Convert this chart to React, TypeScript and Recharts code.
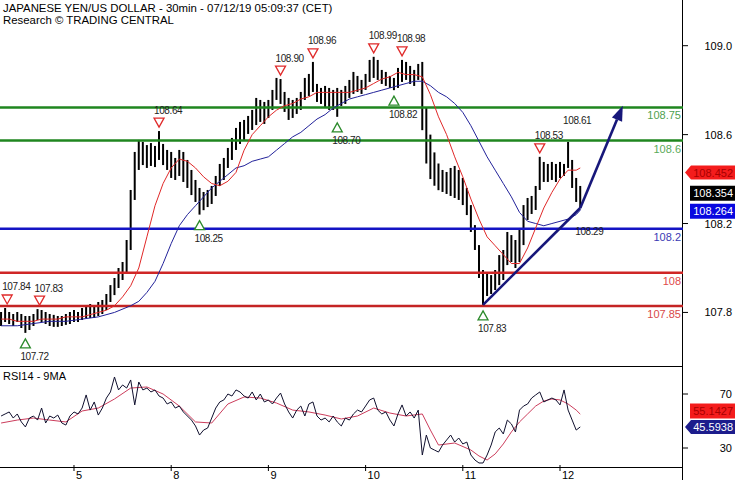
import React from "react";
import { Bar, ComposedChart, Line, ReferenceDot, ReferenceLine, XAxis, YAxis } from "recharts";

const FONT = "'Liberation Sans', Arial, sans-serif";

// one bar per trading hour, first bar = Jul 4 06:00 (hour 6 of the index)
const firstHour = 6;

const highs = [
  107.802, 107.82, 107.802, 107.793, 107.802, 107.793, 107.784, 107.784, 107.793, 107.815,
  107.811, 107.802, 107.793, 107.789, 107.784, 107.784, 107.793, 107.802, 107.811, 107.802,
  107.82, 107.829, 107.838, 107.829, 107.847, 107.856, 107.883, 107.923, 107.955, 108.0,
  108.027, 108.126, 108.351, 108.522, 108.576, 108.567, 108.553, 108.562, 108.549, 108.616,
  108.558, 108.531, 108.522, 108.495, 108.531, 108.522, 108.486, 108.441, 108.396, 108.36,
  108.342, 108.351, 108.369, 108.414, 108.468, 108.495, 108.54, 108.585, 108.63, 108.657,
  108.666, 108.684, 108.711, 108.765, 108.756, 108.747, 108.756, 108.801, 108.855, 108.85,
  108.792, 108.765, 108.756, 108.765, 108.792, 108.855, 108.873, 108.927, 108.828, 108.81,
  108.819, 108.81, 108.801, 108.81, 108.801, 108.819, 108.846, 108.882, 108.864, 108.846,
  108.873, 108.936, 108.95, 108.936, 108.891, 108.882, 108.864, 108.855, 108.9, 108.936,
  108.927, 108.909, 108.891, 108.918, 108.927, 108.72, 108.6, 108.52, 108.47, 108.441,
  108.432, 108.45, 108.459, 108.441, 108.405, 108.36, 108.283, 108.193, 108.103, 107.991,
  107.973, 107.968, 107.991, 108.058, 108.081, 108.162, 108.148, 108.126, 108.18, 108.283,
  108.315, 108.324, 108.369, 108.5, 108.477, 108.468, 108.477, 108.468, 108.477, 108.468,
  108.567, 108.486, 108.405, 108.369,
];

const lows = [
  107.739, 107.757, 107.748, 107.739, 107.757, 107.73, 107.708, 107.721, 107.739, 107.766,
  107.757, 107.748, 107.739, 107.735, 107.735, 107.739, 107.744, 107.748, 107.757, 107.757,
  107.766, 107.775, 107.775, 107.775, 107.784, 107.793, 107.811, 107.847, 107.878, 107.91,
  107.946, 107.982, 108.081, 108.306, 108.441, 108.463, 108.45, 108.459, 108.454, 108.486,
  108.463, 108.441, 108.405, 108.396, 108.414, 108.387, 108.36, 108.328, 108.297, 108.24,
  108.26, 108.274, 108.288, 108.324, 108.369, 108.396, 108.45, 108.486, 108.531, 108.558,
  108.576, 108.603, 108.621, 108.643, 108.657, 108.648, 108.675, 108.711, 108.756, 108.738,
  108.702, 108.666, 108.675, 108.693, 108.711, 108.756, 108.774, 108.792, 108.747, 108.738,
  108.72, 108.711, 108.711, 108.68, 108.729, 108.738, 108.765, 108.783, 108.792, 108.783,
  108.801, 108.837, 108.855, 108.846, 108.828, 108.819, 108.81, 108.8, 108.81, 108.837,
  108.846, 108.828, 108.819, 108.846, 108.62, 108.47, 108.4, 108.37, 108.35, 108.342,
  108.333, 108.324, 108.315, 108.306, 108.283, 108.238, 108.162, 108.081, 107.955, 107.834,
  107.874, 107.883, 107.901, 107.923, 107.946, 108.013, 108.027, 108.0, 108.027, 108.103,
  108.216, 108.243, 108.261, 108.351, 108.387, 108.387, 108.396, 108.387, 108.405, 108.414,
  108.45, 108.36, 108.297, 108.27,
];

// moving averages: [hour, value]
const redMa: [number, number][] = [
  [6, 107.77], [8, 107.77], [10, 107.76], [12, 107.76], [14, 107.76], [16, 107.77], [18, 107.77],
  [20, 107.77], [22, 107.78], [24, 107.78], [26, 107.78], [28, 107.79], [30, 107.8], [32, 107.81],
  [34, 107.83], [36, 107.87], [38, 107.92], [40, 108.0], [42, 108.14], [44, 108.28], [46, 108.38],
  [48, 108.45], [50, 108.49], [52, 108.48], [54, 108.45], [56, 108.41], [58, 108.38], [60, 108.37],
  [62, 108.39], [64, 108.43], [66, 108.53], [68, 108.6], [70, 108.64], [72, 108.68], [74, 108.71],
  [76, 108.73], [78, 108.74], [80, 108.76], [82, 108.77], [84, 108.79], [86, 108.79], [88, 108.79],
  [90, 108.79], [92, 108.79], [94, 108.8], [96, 108.81], [98, 108.83], [100, 108.85], [102, 108.86],
  [104, 108.88], [106, 108.87], [108, 108.87], [110, 108.86], [112, 108.78], [114, 108.68],
  [116, 108.6], [118, 108.5], [120, 108.41], [122, 108.31], [124, 108.22], [126, 108.14],
  [128, 108.1], [130, 108.06], [132, 108.02], [134, 108.02], [136, 108.09], [138, 108.18],
  [140, 108.27], [142, 108.34], [144, 108.4], [146, 108.44], [148, 108.44], [149, 108.45],
];

const blueMa: [number, number][] = [
  [6, 107.74], [10, 107.74], [14, 107.75], [18, 107.76], [22, 107.76], [26, 107.77], [30, 107.78],
  [34, 107.8], [38, 107.83], [40, 107.85], [42, 107.89], [44, 107.94], [46, 108.02], [48, 108.11],
  [50, 108.19], [52, 108.24], [54, 108.28], [56, 108.32], [58, 108.36], [60, 108.39], [62, 108.42],
  [64, 108.45], [66, 108.46], [68, 108.48], [70, 108.49], [72, 108.5], [74, 108.53], [76, 108.56],
  [78, 108.59], [80, 108.61], [82, 108.64], [84, 108.67], [86, 108.69], [88, 108.72], [90, 108.74],
  [92, 108.76], [94, 108.77], [96, 108.78], [98, 108.79], [100, 108.8], [102, 108.81], [104, 108.82],
  [106, 108.83], [108, 108.84], [110, 108.84], [112, 108.82], [114, 108.79], [116, 108.77],
  [118, 108.74], [120, 108.7], [122, 108.64], [124, 108.57], [126, 108.5], [128, 108.44],
  [130, 108.38], [132, 108.32], [134, 108.25], [136, 108.21], [138, 108.2], [140, 108.19],
  [142, 108.2], [144, 108.21], [146, 108.22], [148, 108.24], [149, 108.26],
];

const rsi = [
  53.7, 55.2, 56.7, 52.2, 55.2, 49.3, 45.6, 52.2, 53.7, 50.7,
  59.6, 48.5, 53.7, 52.2, 54.4, 48.5, 47.0, 53.7, 56.7, 55.2,
  59.6, 69.3, 58.1, 64.1, 54.4, 59.6, 67.0, 71.5, 82.6, 73.0,
  76.7, 74.4, 80.4, 61.9, 78.9, 73.0, 74.4, 71.5, 73.0, 68.5,
  67.0, 62.6, 64.1, 59.6, 61.1, 56.7, 53.7, 50.7, 46.3, 39.6,
  43.3, 44.8, 52.2, 59.6, 64.1, 65.6, 70.0, 68.5, 73.0, 71.5,
  68.5, 67.0, 71.5, 65.6, 70.0, 64.1, 65.6, 62.6, 67.0, 70.7,
  62.6, 56.7, 52.2, 58.1, 61.1, 53.7, 62.6, 64.1, 53.7, 50.7,
  52.2, 49.3, 53.7, 49.3, 46.3, 52.2, 50.7, 55.2, 58.1, 56.7,
  61.1, 65.6, 67.0, 58.1, 55.2, 56.7, 50.7, 46.3, 55.2, 61.9,
  53.7, 56.7, 52.2, 58.1, 24.8, 39.6, 30.0, 28.5, 27.0, 32.2,
  35.9, 39.6, 34.4, 37.4, 33.0, 34.4, 24.8, 21.1, 18.9, 18.9,
  24.8, 32.2, 41.9, 44.8, 40.4, 50.7, 47.8, 41.9, 58.1, 61.1,
  62.6, 67.0, 69.3, 71.5, 64.1, 65.6, 67.0, 65.6, 61.9, 73.0,
  58.1, 50.7, 43.3, 45.6,
];

const rsiMa: [number, number][] = [
  [6, 48.5], [10, 50.7], [14, 52.2], [18, 50.7], [22, 49.3], [26, 57.4], [30, 59.6], [34, 66.3],
  [38, 74.4], [42, 75.2], [46, 70.0], [50, 61.1], [54, 49.3], [58, 48.5], [62, 62.6], [66, 67.8],
  [70, 67.0], [74, 63.3], [78, 58.1], [82, 56.7], [86, 54.4], [90, 51.5], [94, 53.7], [98, 59.6],
  [102, 55.9], [106, 53.7], [110, 55.2], [112, 43.3], [114, 32.2], [118, 33.7], [122, 28.5],
  [124, 24.1], [126, 21.1], [128, 25.6], [130, 33.0], [132, 41.9], [134, 49.3], [136, 55.2],
  [138, 61.1], [140, 64.8], [142, 66.3], [144, 65.6], [146, 62.6], [148, 58.1], [149, 55.1],
];

const dayTicks = [24, 48, 72, 96, 120, 144];
const dayLabels = ["5", "8", "9", "10", "11", "12"];
const priceTicks = [107.8, 108.2, 108.6, 109.0];
const rsiTicks = [30, 70];

const levels = [
  { value: 108.722, text: "108.75", line: "#1f861f", label: "#4f9f4f" },
  { value: 108.573, text: "108.6", line: "#1f861f", label: "#5aaa5a" },
  { value: 108.176, text: "108.2", line: "#1414c4", label: "#3a3ab4" },
  { value: 107.979, text: "108", line: "#cf2626", label: "#e04a4a" },
  { value: 107.829, text: "107.85", line: "#c42424", label: "#d84848" },
];

// h may sit on a half hour (30-min bar); the price comes from the hourly bar it falls in
const markers = [
  { h: 7.5, kind: "high", text: "107.84" },
  { h: 15.5, kind: "high", text: "107.83" },
  { h: 12, kind: "low", text: "107.72" },
  { h: 45, kind: "high", text: "108.64" },
  { h: 55, kind: "low", text: "108.25" },
  { h: 75, kind: "high", text: "108.90" },
  { h: 83, kind: "high", text: "108.96" },
  { h: 89, kind: "low", text: "108.70" },
  { h: 98, kind: "high", text: "108.99" },
  { h: 103, kind: "low", text: "108.82" },
  { h: 105, kind: "high", text: "108.98" },
  { h: 125, kind: "low", text: "107.83" },
  { h: 139, kind: "high", text: "108.53" },
  { h: 146, kind: "high", text: "108.61", bare: true },
  { h: 149, kind: "low", text: "108.29", bare: true },
];

const trendLine = [{ x: 125, y: 107.834 }, { x: 149, y: 108.27 }];
const arrowLine = [{ x: 149, y: 108.27 }, { x: 159.5, y: 108.73 }];

const lastPrice = 108.354;
const lastRedMa = 108.452;
const lastBlueMa = 108.264;
const lastRsi = 45.5938;
const lastRsiMa = 55.1427;

const xDomain: [number, number] = [5.73, 174.37];
const priceDomain: [number, number] = [107.559, 109.2056];
const rsiDomain: [number, number] = [15.93, 90.74];

const W = 735;
const PLOT_W = 683;
const MAIN_H = 366;
const RSI_PLOT_H = 101;

const lookup = (pts: [number, number][], h: number) => {
  const p = pts.find((q) => q[0] === h);
  return p ? p[1] : null;
};

const priceRows = highs.map((hi, i) => {
  const h = firstHour + i;
  return { h, range: [lows[i], hi], red: lookup(redMa, h), blue: lookup(blueMa, h) };
});

const rsiRows = rsi.map((v, i) => {
  const h = firstHour + i;
  return { h, rsi: v, ma: lookup(rsiMa, h) };
});

const txt = { fontFamily: FONT, fontSize: 11 };
const smallTxt = { fontFamily: FONT, fontSize: 10, letterSpacing: -0.4 };

const PriceTick = (p: any) => (
  <g>
    <line x1={PLOT_W} x2={PLOT_W + 5} y1={p.y} y2={p.y} stroke="#000" />
    <text x={W - 3} y={p.y} textAnchor="end" dominantBaseline="central" fill="#000" {...txt}>
      {Number(p.payload.value).toFixed(1)}
    </text>
  </g>
);

const RsiTick = (p: any) => (
  <g>
    <line x1={PLOT_W} x2={PLOT_W + 5} y1={p.y} y2={p.y} stroke="#000" />
    <text x={W - 3} y={p.y} textAnchor="end" dominantBaseline="central" fill="#000" {...txt}>
      {p.payload.value}
    </text>
  </g>
);

const DayTick = (p: any) => {
  const i = dayTicks.indexOf(p.payload.value);
  return (
    <g>
      <line x1={p.x} x2={p.x} y1={RSI_PLOT_H - 2} y2={RSI_PLOT_H + 4} stroke="#000" />
      <text x={p.x + 2} y={RSI_PLOT_H + 8} dominantBaseline="central" fill="#000" {...txt}>
        {dayLabels[i]}
      </text>
    </g>
  );
};

const markerShape = (m: any) => (p: any) => {
  const { cx, cy } = p;
  const up = m.kind === "low";
  const ty = up ? cy + 11 : cy - 9;
  const ly = up ? ty + 13 : ty - 12;
  const color = up ? "#2b8a2b" : "#e02a2a";
  const tri = up
    ? `${cx - 5},${ty + 4} ${cx + 5},${ty + 4} ${cx},${ty - 5}`
    : `${cx - 5},${ty - 4} ${cx + 5},${ty - 4} ${cx},${ty + 5}`;
  return (
    <g>
      {!m.bare && <polygon points={tri} fill="#fff" stroke={color} strokeWidth={1.3} />}
      <text x={cx - 5} y={ly} dominantBaseline="central" fill="#222" {...smallTxt}>
        {m.text}
      </text>
    </g>
  );
};

const levelLabel = (lv: any) => (p: any) => (
  <text x={p.cx - 2} y={p.cy + 8} textAnchor="end" dominantBaseline="central" fill={lv.label} {...txt}>
    {lv.text}
  </text>
);

const valueBox = (text: string, bg: string, fg: string, pointer: boolean, dy: number) => (p: any) => {
  const y = p.cy + dy;
  const x0 = p.cx + 2;
  const left = p.cx + 8;
  const d = pointer
    ? `M${x0},${y} L${left},${y - 7} L${W},${y - 7} L${W},${y + 7} L${left},${y + 7} Z`
    : `M${left - 1},${y - 7.5} L${W},${y - 7.5} L${W},${y + 7.5} L${left - 1},${y + 7.5} Z`;
  return (
    <g>
      <path d={d} fill={bg} />
      <text x={W - 2} y={y} textAnchor="end" dominantBaseline="central" fill={fg} {...txt}>
        {text}
      </text>
    </g>
  );
};

const arrowShape = (p: any) => {
  const { x1, y1, x2, y2 } = p;
  const a = Math.atan2(y2 - y1, x2 - x1);
  const len = 15;
  const half = 5.5;
  const bx = x2 - len * Math.cos(a);
  const by = y2 - len * Math.sin(a);
  const nx = -Math.sin(a) * half;
  const ny = Math.cos(a) * half;
  return (
    <g>
      <line x1={x1} y1={y1} x2={bx} y2={by} stroke="#17177a" strokeWidth={2.6} />
      <polygon points={`${x2},${y2} ${bx + nx},${by + ny} ${bx - nx},${by - ny}`} fill="#17177a" />
    </g>
  );
};

const PriceChart = () => (
  <ComposedChart width={W} height={MAIN_H} data={priceRows} margin={{ top: 0, right: 0, bottom: 0, left: 0 }}>
    <XAxis type="number" dataKey="h" domain={xDomain} allowDataOverflow hide />
    <YAxis
      orientation="right"
      domain={priceDomain}
      ticks={priceTicks}
      allowDataOverflow
      width={W - PLOT_W}
      axisLine={false}
      tickLine={false}
      tick={<PriceTick />}
      interval={0}
    />
    {levels.map((lv) => (
      <ReferenceLine key={lv.text} y={lv.value} stroke={lv.line} strokeWidth={2.5} />
    ))}
    <Bar dataKey="range" barSize={2} fill="#000" isAnimationActive={false} />
    <Line dataKey="blue" stroke="#22229a" strokeWidth={1} dot={false} activeDot={false} connectNulls isAnimationActive={false} />
    <Line dataKey="red" stroke="#e02828" strokeWidth={1} dot={false} activeDot={false} connectNulls isAnimationActive={false} />
    <ReferenceLine segment={trendLine} stroke="#17177a" strokeWidth={2.6} />
    <ReferenceLine segment={arrowLine} shape={arrowShape} />
    {levels.map((lv) => (
      <ReferenceDot key={"l" + lv.text} x={xDomain[1]} y={lv.value} shape={levelLabel(lv)} />
    ))}
    {markers.map((m) => {
      const i = Math.floor(m.h) - firstHour;
      return (
        <ReferenceDot
          key={m.text + m.h}
          x={m.h}
          y={m.kind === "high" ? highs[i] : lows[i]}
          shape={markerShape(m)}
        />
      );
    })}
    <ReferenceDot x={xDomain[1]} y={lastRedMa} shape={valueBox(lastRedMa.toFixed(3), "#f41c1c", "#a80000", true, 5)} />
    <ReferenceDot x={xDomain[1]} y={lastPrice} shape={valueBox(lastPrice.toFixed(3), "#000", "#fff", false, 4)} />
    <ReferenceDot x={xDomain[1]} y={lastBlueMa} shape={valueBox(lastBlueMa.toFixed(3), "#0808e0", "#fff", false, 2)} />
  </ComposedChart>
);

const RsiChart = () => (
  <ComposedChart width={W} height={RSI_PLOT_H + 13} data={rsiRows} margin={{ top: 0, right: 0, bottom: 0, left: 0 }}>
    <XAxis
      type="number"
      dataKey="h"
      domain={xDomain}
      allowDataOverflow
      ticks={dayTicks}
      interval={0}
      height={13}
      axisLine={false}
      tickLine={false}
      tick={<DayTick />}
    />
    <YAxis
      orientation="right"
      domain={rsiDomain}
      ticks={rsiTicks}
      allowDataOverflow
      width={W - PLOT_W}
      axisLine={false}
      tickLine={false}
      tick={<RsiTick />}
      interval={0}
    />
    <Line dataKey="ma" stroke="#cc3d5c" strokeWidth={1} dot={false} activeDot={false} connectNulls isAnimationActive={false} />
    <Line dataKey="rsi" stroke="#10102e" strokeWidth={1} dot={false} activeDot={false} isAnimationActive={false} />
    <ReferenceDot x={xDomain[1]} y={lastRsiMa} shape={valueBox(lastRsiMa.toFixed(4), "#f41c1c", "#a80000", false, -3)} />
    <ReferenceDot x={xDomain[1]} y={lastRsi} shape={valueBox(lastRsi.toFixed(4), "#1c1c8c", "#fff", true, 0)} />
  </ComposedChart>
);

const App = () => (
  <div
    style={{
      position: "absolute",
      left: 0,
      top: 0,
      width: W,
      height: 480,
      background: "#fff",
      overflow: "hidden",
      fontFamily: FONT,
    }}
  >
    <div style={{ position: "absolute", left: PLOT_W - 1, top: 0, width: 1, height: 480, background: "#000" }} />
    <div style={{ position: "absolute", left: 0, top: MAIN_H, width: PLOT_W, height: 1, background: "#000" }} />
    <div style={{ position: "absolute", left: 0, top: MAIN_H + RSI_PLOT_H, width: PLOT_W, height: 1, background: "#000" }} />
    <div style={{ position: "absolute", left: 0, top: 0 }}>
      <PriceChart />
    </div>
    <div style={{ position: "absolute", left: 0, top: MAIN_H }}>
      <RsiChart />
    </div>
    <div style={{ position: "absolute", left: 3, top: 2, fontSize: 11.4, lineHeight: "12px", color: "#000" }}>
      JAPANESE YEN/US DOLLAR - 30min - 07/12/19 05:09:37 (CET)
      <br />
      Research © TRADING CENTRAL
    </div>
    <div style={{ position: "absolute", left: 3, top: MAIN_H + 4, fontSize: 11, lineHeight: "12px", color: "#000" }}>
      RSI14 - 9MA
    </div>
  </div>
);

export default App;
